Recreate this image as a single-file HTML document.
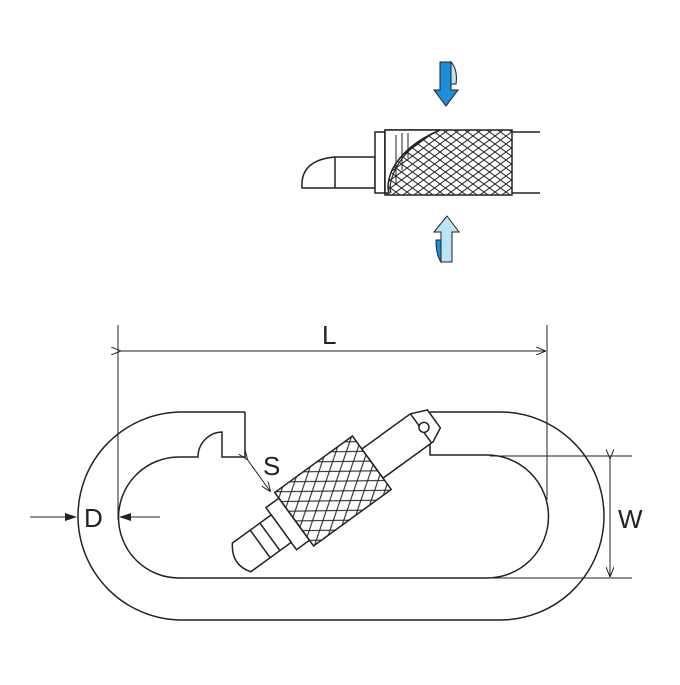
<!DOCTYPE html>
<html><head><style>body{margin:0;background:#fff}</style></head><body>
<svg width="680" height="680" viewBox="0 0 680 680" xmlns="http://www.w3.org/2000/svg" font-family="Liberation Sans, sans-serif">
<defs>
<pattern id="kn" width="17" height="12" patternUnits="userSpaceOnUse">
<path d="M0 0L17 12M17 0L0 12" stroke="#222" stroke-width="1.1"/>
</pattern>
<pattern id="kn2" width="11" height="8" patternUnits="userSpaceOnUse">
<path d="M0 0L11 8M11 0L0 8" stroke="#222" stroke-width="1"/>
</pattern>
<marker id="ah" markerWidth="10" markerHeight="8" refX="9" refY="4" orient="auto" markerUnits="userSpaceOnUse"><path d="M0 0L10 4L0 8" fill="none" stroke="#222" stroke-width="1"/></marker>
<marker id="af" markerWidth="12" markerHeight="8" refX="11" refY="4" orient="auto" markerUnits="userSpaceOnUse"><path d="M0 0L12 4L0 8z" fill="#222"/></marker>
</defs>
<g fill="none" stroke="#222" stroke-width="1.5">
<path d="M245 412H182A104 104 0 0 0 182 620H500A104 104 0 0 0 500 412H430"/>
<path d="M245 412V457H222V432A25 25 0 0 0 198 457H179A60.5 60.5 0 0 0 179 578H487A61.5 61.5 0 0 0 487 455H430V412"/>
</g>
<g transform="translate(333,491) rotate(-36)" stroke="#222" stroke-width="1.5" fill="#fff">
<path d="M48 -17H108L124 -10V12L110 19H48Z"/>
<path d="M108 -17V19" fill="none"/>
<circle cx="111" cy="2" r="5"/>
<path d="M-64 -26H-48V26H-64Z"/>
<path d="M-64 -17H-112Q-126 0 -114 17H-64Z"/>
<path d="M-90 -17V17M-78 -17V17" fill="none"/>
<rect x="-48" y="-33" width="96" height="66" fill="url(#kn)"/>
</g>
<g stroke="#222" stroke-width="1.5" fill="#fff">
<path d="M302 188Q300 160 335 157H375V188Z"/>
<path d="M335 157V188" fill="none"/>
<rect x="375" y="132" width="10" height="61"/>
<path d="M385 130H512V195H385Z" fill="url(#kn2)"/>
<path d="M385 130H440Q405 145 392 170Q386 185 389 193H385Z" fill="#fff"/>
<path d="M440 130Q408 145 396 168Q388 184 391 193" fill="none" stroke-width="1.2"/>
<path d="M396 135V185M402 133V170M408 133V158" fill="none" stroke-width="1"/>
<path d="M512 132H540M512 193H540" fill="none"/>
</g>
<g stroke="#222" stroke-width="1">
<path d="M440 62H451V90H458L446 106L434 90H440Z" fill="#1b8fd8"/>
<path d="M451 62Q458 70 456 84H451Z" fill="#bde3f7"/>
<path d="M447 216L459 232H452V262H441V232H434Z" fill="#bde3f7"/>
<path d="M436 240H441V262Q436 255 436 240Z" fill="#1b8fd8"/>
</g>
<g stroke="#222" stroke-width="1" fill="none">
<path d="M118 325V520M547 325V500"/>
<path d="M120 351H545" marker-start="url(#ah)" marker-end="url(#ah)"/>
<path d="M490 456H632M490 578H632"/>
<path d="M610 458V576" marker-start="url(#ah)" marker-end="url(#ah)"/>
<path d="M30 517H76" marker-end="url(#af)"/>
<path d="M160 517H120" marker-end="url(#af)"/>
<path d="M247 459L270 491" marker-start="url(#ah)" marker-end="url(#ah)"/>
</g>
<g font-size="26" fill="#222">
<text x="322" y="344">L</text>
<text x="618" y="528">W</text>
<text x="84" y="527">D</text>
<text x="263" y="475">S</text>
</g>
</svg>
</body></html>
